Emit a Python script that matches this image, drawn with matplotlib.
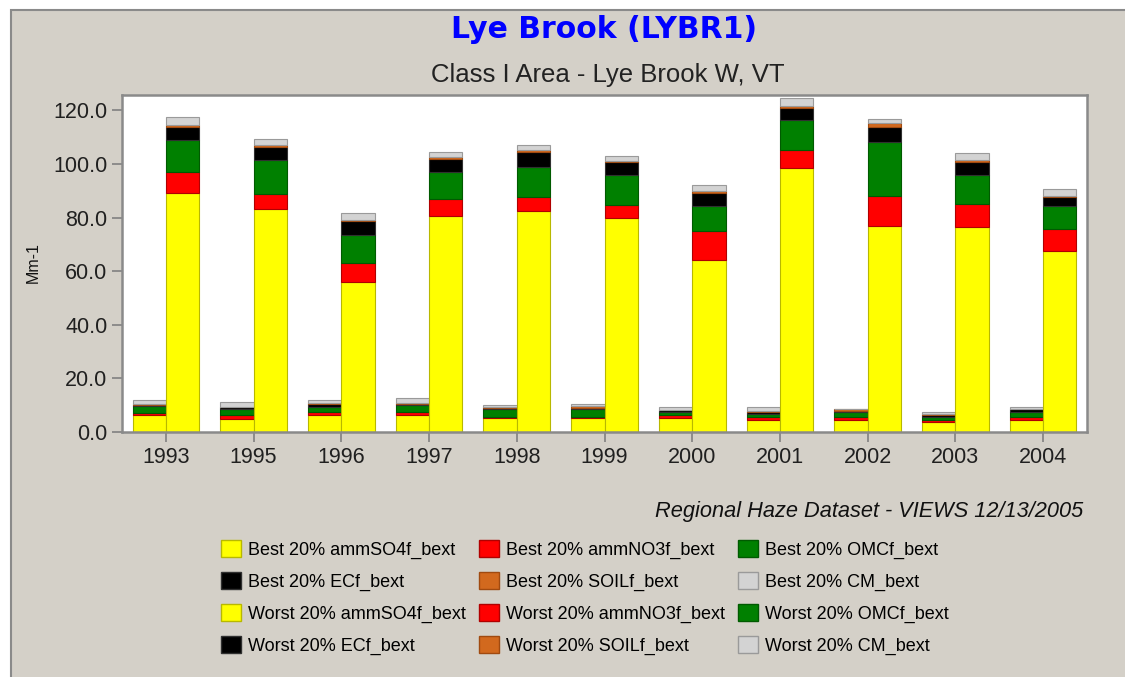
import numpy as np
import matplotlib
matplotlib.use('Agg')
from matplotlib import pyplot as plt
from matplotlib.patches import Patch, Rectangle

plt.rcParams['font.family'] = ['Liberation Sans', 'DejaVu Sans']

years = ['1993', '1995', '1996', '1997', '1998', '1999', '2000', '2001', '2002', '2003', '2004']

# best 20% days
best_so4 = [6.5, 5.0, 6.5, 6.5, 5.1, 5.1, 5.1, 4.4, 4.4, 3.7, 4.4]
best_no3 = [0.5, 1.2, 1.0, 1.0, 0.5, 0.5, 1.1, 1.2, 1.2, 0.7, 1.2]
best_omc = [2.6, 2.2, 1.8, 2.7, 2.8, 2.8, 1.3, 1.3, 1.9, 1.2, 1.9]
best_ec = [0.6, 0.9, 1.3, 0.4, 0.6, 0.7, 0.6, 0.6, 0.3, 0.9, 0.9]
best_soil = [0.2, 0.2, 0.2, 0.2, 0.2, 0.6, 0.2, 0.3, 0.6, 0.2, 0.2]
best_cm = [1.4, 1.7, 1.1, 1.7, 1.0, 0.9, 1.0, 1.5, 0.3, 0.8, 0.7]

# worst 20% days
worst_so4 = [89.3, 83.1, 56.1, 80.7, 82.5, 80.0, 64.3, 98.3, 76.9, 76.3, 67.4]
worst_no3 = [7.7, 5.7, 6.8, 6.1, 5.1, 4.5, 10.6, 6.8, 11.3, 8.7, 8.2]
worst_omc = [12.0, 12.6, 10.7, 10.2, 11.3, 11.2, 9.4, 11.3, 20.0, 10.7, 8.7]
worst_ec = [4.8, 4.9, 5.1, 5.0, 5.6, 5.0, 5.0, 4.5, 5.6, 5.0, 3.2]
worst_soil = [0.8, 0.7, 0.5, 0.6, 0.6, 0.4, 0.6, 0.7, 1.6, 0.7, 0.6]
worst_cm = [2.9, 2.3, 2.5, 1.9, 1.9, 1.9, 2.4, 2.8, 1.5, 2.5, 2.5]

species = ['ammSO4f_bext', 'ammNO3f_bext', 'OMCf_bext', 'ECf_bext', 'SOILf_bext', 'CM_bext']
colors = ['#ffff00', '#ff0000', '#008000', '#000000', '#d2691e', '#d3d3d3']
edges = ['#b8b800', '#b00000', '#005a00', '#303030', '#a04a10', '#9a9a9a']

best = [best_so4, best_no3, best_omc, best_ec, best_soil, best_cm]
worst = [worst_so4, worst_no3, worst_omc, worst_ec, worst_soil, worst_cm]

bg = '#d4d0c8'
fig = plt.figure(figsize=(11.25, 6.77), dpi=100, facecolor='white')
# gray panel with border (only top and left edges fall inside the image)
fig.patches.append(Rectangle((11/1125, -0.05), 1.0, 1.05 - 10/677, transform=fig.transFigure,
                             facecolor=bg, edgecolor='#8a8a8a', linewidth=1.5, zorder=-5))

ax = fig.add_axes([122/1125, 1 - 432/677, (1087-122)/1125, (432-95)/677])
ax.set_facecolor('white')
ax.set_zorder(2)

x = np.arange(len(years))
w = 0.38
for data, off in [(best, -w/2), (worst, w/2)]:
    bottom = np.zeros(len(years))
    for vals, c, e in zip(data, colors, edges):
        ax.bar(x + off, vals, w, bottom=bottom, color=c, edgecolor=e, linewidth=0.8)
        bottom += np.array(vals)

ax.set_xlim(-0.5, len(years) - 0.5)
ax.set_ylim(0, 125.7)
ax.set_yticks(np.arange(0, 121, 20))
ax.set_yticklabels(['%.1f' % v for v in np.arange(0, 121, 20)])
ax.set_xticks(x)
ax.set_xticklabels(years)
ax.tick_params(axis='both', colors='#808080', labelcolor='#202020', labelsize=15.5,
               length=7, width=1.2, direction='out')
ax.tick_params(axis='x', pad=4)
for s in ax.spines.values():
    s.set_color('#8a8a8a')
    s.set_linewidth(1.8)

fig.text(33/1125, 1 - 263/677, 'Mm-1', rotation=90, ha='center', va='center', fontsize=11.5, color='#111111')

fig.text(604/1125, 1 - 30/677, 'Lye Brook (LYBR1)', ha='center', va='center',
         fontsize=21.5, fontweight='bold', color='#0000ff', family='DejaVu Sans')
fig.text(608/1125, 1 - 75/677, 'Class I Area - Lye Brook W, VT', ha='center', va='center',
         fontsize=18.5, color='#222222')
fig.text(1083/1125, 1 - 512/677, 'Regional Haze Dataset - VIEWS 12/13/2005', ha='right', va='center',
         fontsize=15.7, style='italic', color='#111111')

# legend, filled column by column so the rows read Best/Best/Worst/Worst
handles, labels = [], []
for j in range(3):
    for group, k in [('Best', j), ('Best', j + 3), ('Worst', j), ('Worst', j + 3)]:
        handles.append(Patch(facecolor=colors[k], edgecolor=edges[k], linewidth=1.0))
        labels.append('%s 20%% %s' % (group, species[k]))
fig.legend(handles, labels, ncol=3, loc='upper left', bbox_to_anchor=(221/1125, 1 - 540/677),
           frameon=False, fontsize=13, handlelength=1.1, handleheight=1.1, handletextpad=0.38,
           labelspacing=0.72, columnspacing=0.75, borderpad=0, borderaxespad=0)

plt.savefig('out.png', dpi=100, facecolor=fig.get_facecolor())
